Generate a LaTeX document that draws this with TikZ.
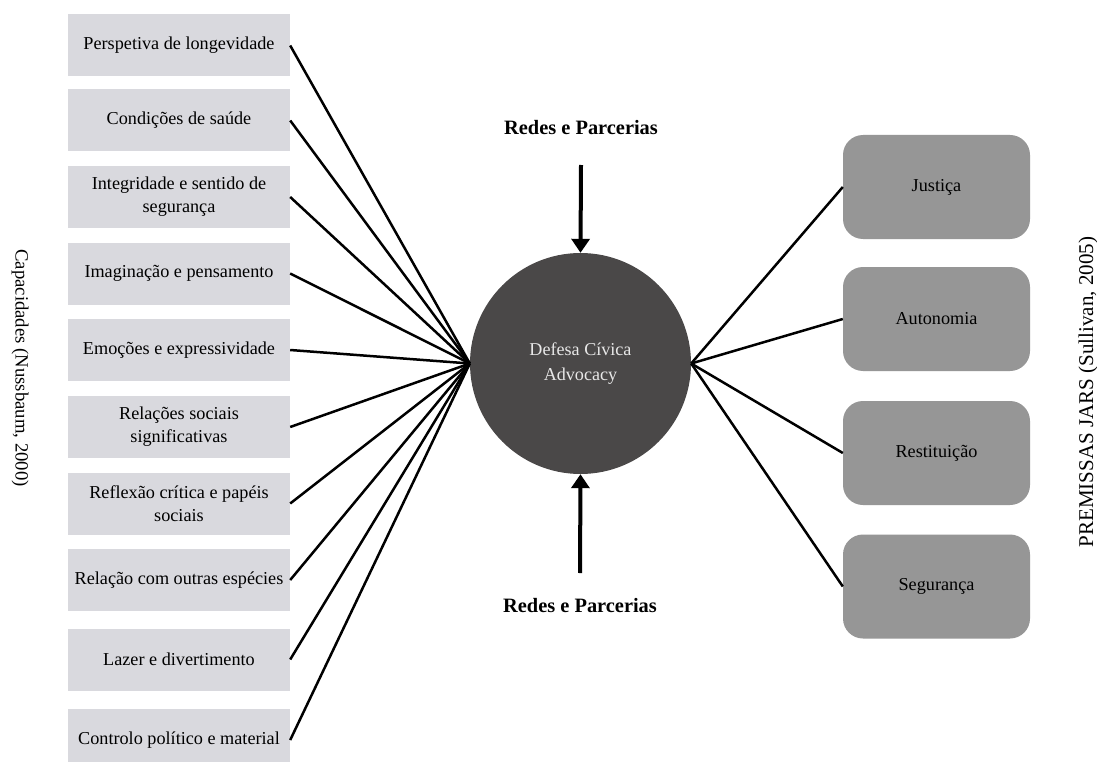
\documentclass[tikz,border=0pt]{standalone}
\usepackage{fontspec}
\setmainfont{Liberation Serif}
\usetikzlibrary{arrows.meta}
\definecolor{lbox}{RGB}{217,217,222}
\definecolor{rbox}{RGB}{150,150,150}
\definecolor{core}{RGB}{74,72,72}
\definecolor{coretxt}{RGB}{232,232,232}
\tikzset{
  capbox/.style={fill=lbox, draw=none, minimum width=222pt, minimum height=62pt, inner sep=0pt, align=center, font=\fontsize{18.2}{23}\selectfont},
  prembox/.style={fill=rbox, draw=none, rounded corners=20pt, minimum width=187pt, minimum height=104pt, inner sep=0pt, font=\fontsize{18.2}{22}\selectfont},
  link/.style={line width=2.5pt, black},
  bigarrow/.style={line width=4pt, -{Triangle[width=18pt,length=14pt]}},
  redes/.style={font=\bfseries\fontsize{20.4}{22}\selectfont},
  sidelab/.style={font=\fontsize{18.7}{20}\selectfont}
}
\begin{document}
\begin{tikzpicture}[x=1pt,y=-1pt]
\useasboundingbox (0,0) rectangle (1097,762);
\fill[white] (0,0) rectangle (1097,762);
% left boxes
\node[capbox] (c1) at (179,45.5) {Perspetiva de longevidade};
\node[capbox] (c2) at (179,120.5) {Condições de saúde};
\node[capbox] (c3) at (179,197) {Integridade e sentido de\\segurança};
\node[capbox] (c4) at (179,273.5) {Imaginação e pensamento};
\node[capbox] (c5) at (179,350) {Emoções e expressividade};
\node[capbox] (c6) at (179,427) {Relações sociais\\significativas};
\node[capbox] (c7) at (179,503.5) {Reflexão crítica e papéis\\sociais};
\node[capbox] (c8) at (179,580) {Relação com outras espécies};
\node[capbox] (c9) at (179,659.5) {Lazer e divertimento};
\node[capbox] (c10) at (179,740) {Controlo político e material};
% center
\node[circle, fill=core, minimum size=221pt, inner sep=0pt, align=center, text=coretxt, font=\fontsize{18.1}{25}\selectfont] (core) at (580.5,363.5) {Defesa Cívica\\Advocacy};
% right boxes
\node[prembox] (p1) at (936.5,187) {Justiça};
\node[prembox] (p2) at (936.5,319) {Autonomia};
\node[prembox] (p3) at (936.5,453) {Restituição};
\node[prembox] (p4) at (936.5,586.5) {Segurança};
% links
\foreach \i in {1,...,10}{\draw[link] (c\i.east) -- (core.west);}
\foreach \i in {1,...,4}{\draw[link] (core.east) -- (p\i.west);}
% redes
\node[redes] (rt) at (581,128) {Redes e Parcerias};
\node[redes] (rb) at (580,606) {Redes e Parcerias};
\coordinate (at) at (581,165);
\coordinate (ab) at (580,573);
\draw[bigarrow] (at) -- (core.north);
\draw[bigarrow] (ab) -- (core.south);
% side labels
\node[sidelab, rotate=-90] (sl) at (20,368) {Capacidades (Nussbaum, 2000)};
\node[sidelab, rotate=90, font=\fontsize{21}{23}\selectfont] (sr) at (1088,392) {PREMISSAS JARS (Sullivan, 2005)};
\end{tikzpicture}
\end{document}
